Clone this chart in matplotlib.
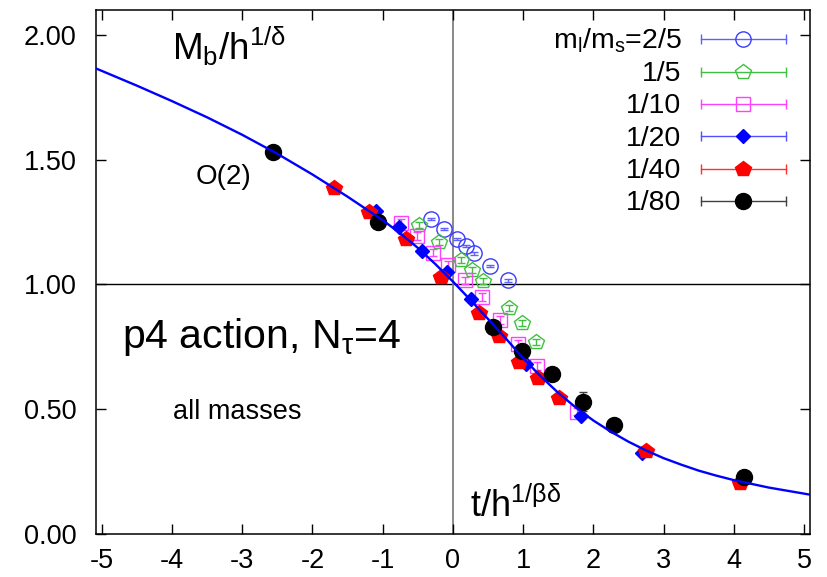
import numpy as np
import matplotlib
matplotlib.use('Agg')
import matplotlib.pyplot as plt

plt.rcParams['font.family'] = ['Liberation Sans', 'DejaVu Sans']
plt.rcParams['mathtext.fontset'] = 'custom'
plt.rcParams['mathtext.rm'] = 'Liberation Sans'
plt.rcParams['mathtext.it'] = 'Liberation Sans:italic'
plt.rcParams['mathtext.bf'] = 'Liberation Sans:bold'
plt.rcParams['axes.unicode_minus'] = False

# O(2) scaling function, sampled
curve_x = [-5.1, -4.5, -4.0, -3.5, -3.0, -2.5, -2.0, -1.5, -1.0, -0.75, -0.5, -0.25, 0.0,
           0.25, 0.5, 0.75, 1.0, 1.25, 1.5, 1.75, 2.0, 2.25, 2.5, 2.75, 3.0, 3.25, 3.5,
           3.75, 4.0, 4.5, 5.1]
curve_y = [1.868, 1.797, 1.735, 1.670, 1.600, 1.524, 1.441, 1.352, 1.258, 1.205, 1.147, 1.082, 1.012,
           0.938, 0.862, 0.785, 0.705, 0.632, 0.566, 0.507, 0.455, 0.410, 0.370, 0.335, 0.304, 0.278, 0.254,
           0.234, 0.216, 0.186, 0.157]

# m_l/m_s = 2/5
x25 = [-0.318, -0.128, 0.062, 0.181, 0.300, 0.527, 0.789]
y25 = [1.263, 1.222, 1.182, 1.155, 1.125, 1.075, 1.016]
e25 = [0.005, 0.005, 0.005, 0.005, 0.005, 0.005, 0.005]
# 1/5
x15 = [-0.484, -0.199, 0.120, 0.276, 0.433, 0.798, 0.979, 1.188]
y15 = [1.239, 1.170, 1.099, 1.059, 1.012, 0.905, 0.845, 0.771]
e15 = [0.012, 0.012, 0.012, 0.012, 0.012, 0.012, 0.012, 0.012]
# 1/10
x110 = [-0.735, -0.517, -0.279, -0.071, 0.167, 0.419, 0.670, 0.926, 1.202, 1.772]
y110 = [1.248, 1.195, 1.128, 1.079, 1.016, 0.949, 0.858, 0.762, 0.674, 0.490]
e110 = [0.015, 0.015, 0.015, 0.015, 0.015, 0.015, 0.015, 0.015, 0.015, 0.015]
# 1/20
x120 = [-1.089, -0.769, -0.436, -0.080, 0.252, 1.036, 1.819, 2.698]
y120 = [1.296, 1.232, 1.135, 1.052, 0.941, 0.682, 0.473, 0.326]
e120 = [0.01, 0.01, 0.01, 0.01, 0.01, 0.01, 0.01, 0.01]
# 1/40
x140 = [-1.695, -1.197, -0.674, -0.175, 0.370, 0.655, 0.940, 1.216, 1.510, 2.745, 4.088]
y140 = [1.386, 1.292, 1.182, 1.029, 0.887, 0.795, 0.691, 0.624, 0.547, 0.334, 0.203]
e140 = [0.01, 0.01, 0.01, 0.01, 0.01, 0.01, 0.01, 0.01, 0.01, 0.01, 0.01]
# 1/80
x180 = [-2.558, -1.070, 0.570, 0.988, 1.416, 1.852, 2.293, 4.145]
y180 = [1.530, 1.252, 0.829, 0.735, 0.640, 0.531, 0.437, 0.227]
e180 = [0.01, 0.01, 0.01, 0.01, 0.01, 0.04, 0.01, 0.01]

labels = [r'm$_\mathregular{l}$/m$_\mathregular{s}$=2/5', '1/5', '1/10', '1/20', '1/40', '1/80']

# (x, y, err, marker, size, facecolor, edgecolor, errcolor)
series = [
    (x25, y25, e25, 'o', 11, 'none', '#3a3aff', '#6060ff'),
    (x15, y15, e15, 'p', 11.5, 'none', '#40c040', '#40c040'),
    (x110, y110, e110, 's', 10, 'none', '#ff40ff', '#ff40ff'),
    (x120, y120, e120, 'D', 7.5, '#0000ff', '#0000ff', '#5050ff'),
    (x140, y140, e140, 'p', 11.5, '#ff0000', '#ff0000', '#ff3030'),
    (x180, y180, e180, 'o', 11.5, 'black', 'black', '#404040'),
]

fig = plt.figure(figsize=(8.27, 5.77), dpi=100)
ax = fig.add_axes([95.7 / 827, 1 - 534 / 577, (810 - 95.7) / 827, 524 / 577])

ax.axhline(1.0, color='black', lw=1.0, zorder=1)
ax.axvline(0.0, color='#808080', lw=1.3, zorder=1)

for i, (x, y, e, m, ms, fc, ec, erc) in enumerate(series):
    ax.errorbar(x, y, yerr=e, fmt=m, ms=ms, mfc=fc, mec=ec, mew=1.0,
                ecolor=erc, elinewidth=1.0, capsize=3, capthick=1.0, zorder=3 + i)

ax.plot(curve_x, curve_y, color='#0000ff', lw=1.7, zorder=20)

# key, drawn by hand to get gnuplot style error-bar samples
for i, (x, y, e, m, ms, fc, ec, erc) in enumerate(series):
    yy = 0.944 - i * 0.0617
    ax.text(0.820, yy - 0.018, labels[i], transform=ax.transAxes,
            ha='right', va='baseline', fontsize=20.5)
    ax.plot([0.847, 0.966], [yy, yy], transform=ax.transAxes, color=erc, lw=1.0,
            marker='|', ms=7, mew=1.0, zorder=30)
    ax.plot([0.906], [yy], transform=ax.transAxes, marker=m, ms=ms, mfc=fc, mec=ec,
            mew=1.0, ls='none', zorder=31)

ax.text(0.1064, 0.9046, r'M$_\mathregular{b}$/h$^\mathregular{1/δ}$', transform=ax.transAxes,
        ha='left', va='baseline', fontsize=26.5)
ax.text(0.140, 0.668, 'O(2)', transform=ax.transAxes, ha='left', va='baseline', fontsize=20)
ax.text(0.0364, 0.355, r'p4 action, N$_\mathregular{τ}$=4', transform=ax.transAxes,
        ha='left', va='baseline', fontsize=29.5)
ax.text(0.1078, 0.2195, 'all masses', transform=ax.transAxes, ha='left', va='baseline', fontsize=19.5)
ax.text(0.524, 0.033, r't/h$^\mathregular{1/βδ}$', transform=ax.transAxes,
        ha='left', va='baseline', fontsize=26)

ax.set_xlim(-5.085, 5.085)
ax.set_ylim(0, 2.10)
ax.set_xticks(np.arange(-5, 6))
ax.set_yticks([0, 0.5, 1.0, 1.5, 2.0])
ax.set_yticklabels(['%.2f' % v for v in [0, 0.5, 1.0, 1.5, 2.0]])
ax.tick_params(direction='in', length=7, width=1.0, top=True, right=True, labelsize=19.5)
ax.tick_params(axis='x', pad=10)
ax.tick_params(axis='y', pad=14)
for s in ax.spines.values():
    s.set_linewidth(1.1)

fig.savefig('out.png', dpi=100)
